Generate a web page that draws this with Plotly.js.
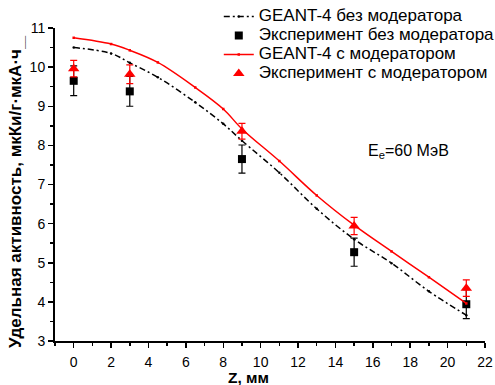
<!DOCTYPE html>
<html>
<head>
<meta charset="utf-8">
<script src="https://cdn.plot.ly/plotly-3.0.1.min.js"></script>
<style>html,body{margin:0;padding:0;background:#fff;}#chart{width:495px;height:385px;}</style>
</head>
<body>
<div id="chart"></div>
<script>
// GEANT-4 simulation curves
const simX = [0, 2, 3, 4.5, 6.5, 8, 9, 11, 13, 15, 17, 19, 21];
const simNoMod = [10.50, 10.35, 10.11, 9.74, 9.10, 8.55, 8.12, 7.30, 6.38, 5.60, 4.99, 4.27, 3.66];
const simMod = [10.75, 10.59, 10.43, 10.12, 9.48, 8.93, 8.42, 7.60, 6.72, 5.96, 5.29, 4.63, 3.96];
// Experimental points
const expX = [0, 3, 9, 15, 21];
const expNoMod = [9.65, 9.38, 7.65, 5.27, 3.94];
const expNoModErr = [0.38, 0.38, 0.36, 0.36, 0.37];
const expMod = [9.96, 9.82, 8.36, 5.94, 4.35];
const expModErr = [0.21, 0.24, 0.2, 0.22, 0.21];
const names = ["GEANT-4 без модератора", "Эксперимент без модератора", "GEANT-4 с модератором", "Эксперимент с модератором"];
const xTicks = [0, 2, 4, 6, 8, 10, 12, 14, 16, 18, 20, 22];
const yTicks = [3, 4, 5, 6, 7, 8, 9, 10, 11];

const FONT = "Arial, 'Liberation Sans', sans-serif";
const lg = n => '<span style="font-size:17px">' + n + '</span>';

const traces = [
  {x: simX, y: simNoMod, name: lg(names[0]), type: 'scatter', mode: 'lines+markers', line: {shape: 'spline', color: '#000', width: 1.5, dash: '6px,3px,2px,3px'}, marker: {size: 2.5, color: '#000'}},
  {x: expX, y: expNoMod, name: lg(names[1]), type: 'scatter', mode: 'markers', marker: {symbol: 'square', size: 8, color: '#000'}, error_y: {type: 'data', array: expNoModErr, visible: true, color: '#000', thickness: 1.2, width: 3.5}},
  {x: simX, y: simMod, name: lg(names[2]), type: 'scatter', mode: 'lines+markers', line: {shape: 'spline', color: '#ff0000', width: 1.5}, marker: {size: 2.5, color: '#ff0000', symbol: 'square'}},
  {x: expX, y: expMod, name: lg(names[3]), type: 'scatter', mode: 'markers', marker: {symbol: 'triangle-up', size: 10, color: '#ff0000'}, error_y: {type: 'data', array: expModErr, visible: true, color: '#ff0000', thickness: 1.2, width: 3.5}}
];

const layout = {
  width: 495, height: 385,
  margin: {l: 55, r: 10, t: 28, b: 44, autoexpand: false},
  paper_bgcolor: '#fff', plot_bgcolor: '#fff',
  font: {family: FONT, size: 14, color: '#000'},
  showlegend: true,
  legend: {xref: 'container', yref: 'container', x: 0.442, y: 0.995, xanchor: 'left', yanchor: 'top', bgcolor: 'rgba(0,0,0,0)', font: {family: FONT, size: 12, color: '#000'}, tracegroupgap: 0, itemwidth: 30},
  xaxis: {
    range: [-1, 22], tickvals: xTicks, ticks: 'outside', ticklen: 5, tickwidth: 1.5, tickcolor: '#000',
    showline: true, linewidth: 2, linecolor: '#000', showgrid: false, zeroline: false,
    tickfont: {family: FONT, size: 14}, ticklabelstandoff: 2,
    minor: {dtick: 1, tick0: 0, ticks: 'outside', ticklen: 3, tickwidth: 1.5, tickcolor: '#000', showgrid: false}
  },
  yaxis: {
    range: [3, 11], tickvals: yTicks, ticks: 'outside', ticklen: 5, tickwidth: 1.5, tickcolor: '#000',
    showline: true, linewidth: 2, linecolor: '#000', showgrid: false, zeroline: false,
    tickfont: {family: FONT, size: 14},
    minor: {dtick: 0.5, tick0: 3, ticks: 'outside', ticklen: 3, tickwidth: 1.5, tickcolor: '#000', showgrid: false}
  },
  annotations: [
    {xref: 'paper', yref: 'paper', x: 0.449, y: -0.118, xanchor: 'center', yanchor: 'middle', showarrow: false, text: '<b>Z, мм</b>', font: {family: FONT, size: 15.5}},
    {xref: 'paper', yref: 'paper', x: -0.09, y: 0.477, xanchor: 'center', yanchor: 'middle', textangle: -90, showarrow: false, text: '<b>Удельная активность, мкКи/г·мкА·ч<sub>__</sub></b>', font: {family: FONT, size: 17}},
    {xref: 'paper', yref: 'paper', x: 0.823, y: 0.604, xanchor: 'center', yanchor: 'middle', showarrow: false, text: 'E<sub>e</sub>=60 МэВ', font: {family: FONT, size: 16}}
  ]
};

Plotly.newPlot('chart', traces, layout, {displayModeBar: false, staticPlot: true});
</script>
</body>
</html>
